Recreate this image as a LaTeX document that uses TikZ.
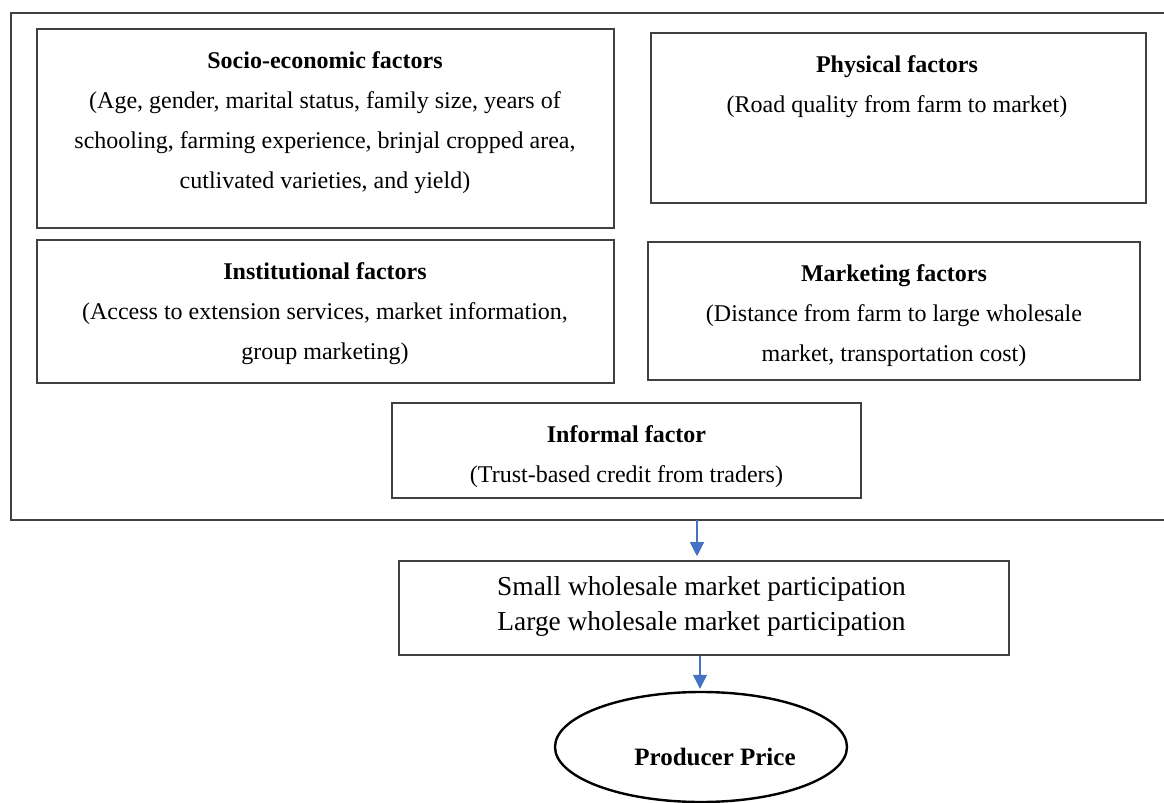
\documentclass[tikz,border=0pt]{standalone}
\usepackage{fontspec}
\setmainfont{Liberation Serif}
\usetikzlibrary{arrows.meta,positioning,shapes.geometric}

\definecolor{arrowblue}{HTML}{4472C4}

\tikzset{
  factorbox/.style={draw=black!75, line width=0.8pt, inner sep=0pt},
  factortext/.style={align=center, inner sep=0pt, font=\fontsize{12}{20}\selectfont},
  outcometext/.style={align=center, inner sep=0pt, font=\fontsize{13.7}{17.5}\selectfont},
  flowarrow/.style={draw=arrowblue, line width=0.6pt, -{Triangle[length=7pt,width=7pt]}},
}

\begin{document}
\begin{tikzpicture}[x=0.5pt, y=-0.5pt]
  \useasboundingbox (0,0) rectangle (1164,803);

  % outer frame, runs off the right edge
  \draw[black!75, line width=0.8pt] (1164,13) -- (11,13) -- (11,520) -- (1164,520);
  \coordinate (framebot) at (697,520);

  % factor boxes
  \node[factorbox, minimum width=288.5pt, minimum height=99.5pt] (socio) at (325.5,128.5) {};
  \node[factortext] (sociotxt) at (325,123) {\textbf{Socio-economic factors}\\
    (Age, gender, marital status, family size, years of\\
    schooling, farming experience, brinjal cropped area,\\
    cutlivated varieties, and yield)};

  \node[factorbox, minimum width=247.5pt, minimum height=85pt] (phys) at (898.5,118) {};
  \node[factortext] (physt) at (897,86.5) {\textbf{Physical factors}\\
    (Road quality from farm to market)};

  \node[factorbox, minimum width=288.5pt, minimum height=71.5pt] (inst) at (325.5,311.5) {};
  \node[factortext] (instt) at (325,313.5) {\textbf{Institutional factors}\\
    (Access to extension services, market information,\\
    group marketing)};

  \node[factorbox, minimum width=246pt, minimum height=69pt] (mkt) at (894,311) {};
  \node[factortext] (mktt) at (894,316) {\textbf{Marketing factors}\\
    (Distance from farm to large wholesale\\
    market, transportation cost)};

  \node[factorbox, minimum width=234.5pt, minimum height=47.5pt] (infm) at (626.5,450.5) {};
  \node[factortext] (infmt) at (626.5,456.5) {\textbf{Informal factor}\\
    (Trust-based credit from traders)};

  % market participation and price
  \node[factorbox, minimum width=305pt, minimum height=47pt] (part) at (704,608) {};
  \node[outcometext] (partt) at (701.5,606.5) {Small wholesale market participation\\
    Large wholesale market participation};

  \node[ellipse, draw, line width=1.2pt, minimum width=146pt, minimum height=55pt, inner sep=0pt] (price) at (701,747) {};
  \node[outcometext, font=\fontsize{12.5}{15}\selectfont\bfseries] (pricet) at (715,757) {Producer Price};

  \draw[flowarrow, shorten >=2pt] (framebot) -- (framebot |- part.north);
  \draw[flowarrow, shorten >=1pt] ([xshift=-2pt]part.south) -- ([xshift=-2pt]part.south |- price.north);
\end{tikzpicture}
\end{document}
